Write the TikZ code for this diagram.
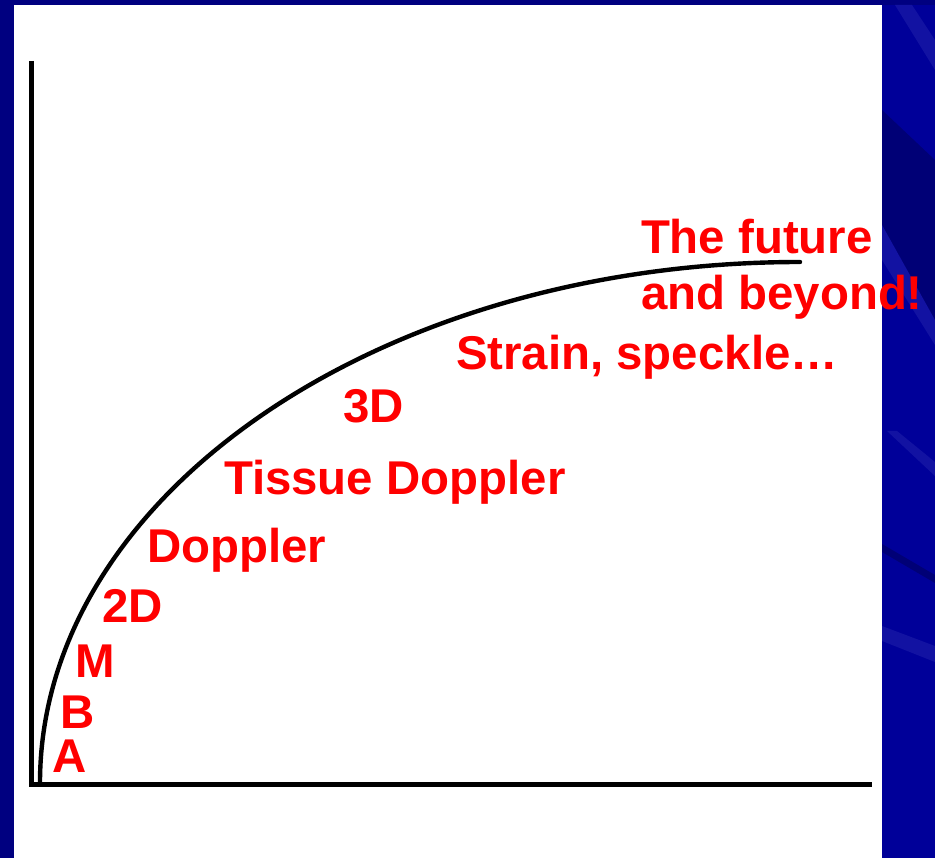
\documentclass[tikz,border=0pt]{standalone}
\usepackage{fontspec}
\setmainfont{Liberation Sans}
\definecolor{bgblue}{RGB}{0,0,153}
\definecolor{bgnavy}{RGB}{0,0,128}
\definecolor{bgdark}{RGB}{0,0,118}
\definecolor{bglight}{RGB}{18,18,162}
\definecolor{txtred}{RGB}{255,0,0}
\tikzset{
  axisline/.style={line width=5pt, black, line cap=butt},
  curveline/.style={line width=4.4pt, black, line cap=round},
  lbl/.style={anchor=base west, inner sep=0pt, outer sep=0pt, text=txtred,
    font=\fontsize{47.4}{56}\selectfont\bfseries, align=left},
}
\begin{document}
\begin{tikzpicture}[x=1pt,y=1pt]
\useasboundingbox (0,0) rectangle (935,-858);
% background
\fill[bgblue] (0,0) rectangle (935,-858);
\fill[bgnavy] (0,0) rectangle (14,-858);
\fill[bgnavy] (0,0) rectangle (935,-5);
% streaks in the right strip
\fill[bgdark] (882,-110) -- (935,-160) -- (935,-330) -- (882,-225) -- cycle;
\fill[bglight] (895,-5) -- (912,-5) -- (935,-40) -- (935,-70) -- cycle;
\fill[bglight] (882,-225) -- (935,-320) -- (935,-345) -- (882,-260) -- cycle;
\fill[bglight] (887,-431) -- (897,-431) -- (935,-462) -- (935,-476) -- cycle;
\fill[bgdark] (882,-544) -- (935,-575) -- (935,-583) -- (882,-552) -- cycle;
\fill[bglight] (882,-626) -- (935,-646) -- (935,-662) -- (882,-641) -- cycle;
% white panel
\fill[white] (14,-5) rectangle (882,-858);
% axes
\coordinate (O) at (31,-784);
\coordinate (ytop) at (31,-61);
\coordinate (xend) at (872,-784);
\draw[axisline] (ytop) -- (O) -- (xend);
% curve (quarter ellipse)
\coordinate (cstart) at (40,-783);
\draw[curveline] (cstart) arc[start angle=180, end angle=90, x radius=760, y radius=521] coordinate (cend);
% labels
\node[lbl] (A) at (52,-772) {A};
\node[lbl] (B) at (60,-728) {B};
\node[lbl] (M) at (75,-677) {M};
\node[lbl] (twoD) at (102,-622) {2D};
\node[lbl] (dop) at (147,-562) {Doppler};
\node[lbl] (tdop) at (224,-495) {Tissue Doppler};
\node[lbl] (threeD) at (343,-423) {3D};
\node[lbl] (strain) at (456,-370) {Strain, speckle…};
\node[lbl] (future) at (641,-310) {The future\\and beyond!};
\end{tikzpicture}
\end{document}
